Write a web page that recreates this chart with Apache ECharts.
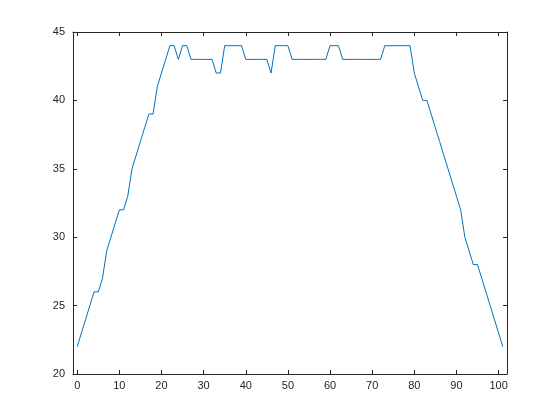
<!DOCTYPE html>
<html>
<head>
<meta charset="utf-8">
<script src="https://cdn.jsdelivr.net/npm/echarts@6/dist/echarts.min.js"></script>
<style>
html,body{margin:0;padding:0;background:#fff;}
#chart{width:560px;height:420px;}
</style>
</head>
<body>
<div id="chart"></div>
<script>
var xValues = [];
for (var i = 0; i <= 101; i++) xValues.push(i);
var yValues = [22,23,24,25,26,26,27,29,30,31,32,32,33,35,36,37,38,39,39,41,
  42,43,44,44,43,44,44,43,43,43,43,43,43,42,42,44,44,44,44,44,
  43,43,43,43,43,43,42,44,44,44,44,43,43,43,43,43,43,43,43,43,
  44,44,44,43,43,43,43,43,43,43,43,43,43,44,44,44,44,44,44,44,
  42,41,40,40,39,38,37,36,35,34,33,32,30,29,28,28,27,26,25,24,
  23,22];
var xTicks = [0,10,20,30,40,50,60,70,80,90,100];
var yTicks = [20,25,30,35,40,45];

var axisColor = '#262626';
var labelFont = {color: axisColor, fontFamily: 'Liberation Sans, Arial, sans-serif', fontSize: 11};
var chart = echarts.init(document.getElementById('chart'), null, {renderer: 'canvas'});
var data = xValues.map(function (x, i) { return [x, yValues[i]]; });
function xAxisCfg(pos, showLabels) {
  return {
    type: 'value', position: pos, min: -1, max: 102,
    axisLine: {show: true, onZero: false, lineStyle: {color: axisColor, width: 1}},
    axisTick: {show: true, inside: true, length: 4, customValues: xTicks, lineStyle: {color: axisColor}},
    axisLabel: Object.assign({show: showLabels, margin: 6, customValues: xTicks}, labelFont),
    splitLine: {show: false}
  };
}
function yAxisCfg(pos, showLabels) {
  return {
    type: 'value', position: pos, min: 20, max: 45, interval: 5,
    axisLine: {show: true, onZero: false, lineStyle: {color: axisColor, width: 1}},
    axisTick: {show: true, inside: true, length: 4, lineStyle: {color: axisColor}},
    axisLabel: Object.assign({show: showLabels, margin: 8}, labelFont),
    splitLine: {show: false}
  };
}
chart.setOption({
  animation: false,
  backgroundColor: '#ffffff',
  grid: {left: 73, top: 32, width: 434, height: 342, containLabel: false},
  xAxis: [xAxisCfg('bottom', true), xAxisCfg('top', false)],
  yAxis: [yAxisCfg('left', true), yAxisCfg('right', false)],
  series: [{
    type: 'line', data: data, xAxisIndex: 0, yAxisIndex: 0,
    showSymbol: false, symbol: 'none',
    lineStyle: {color: '#0072BD', width: 1},
    itemStyle: {color: '#0072BD'}
  }]
});
</script>
</body>
</html>
